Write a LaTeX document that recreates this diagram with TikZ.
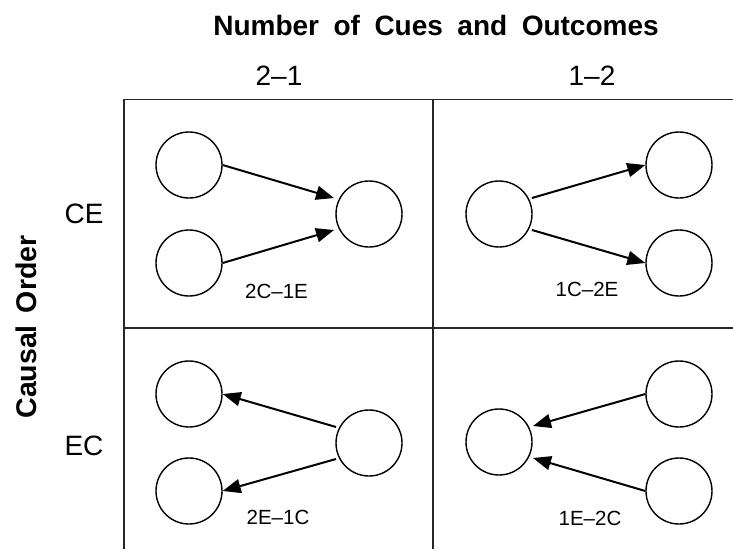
\documentclass[tikz,border=0pt]{standalone}
\usepackage{fontspec}
\setmainfont{Liberation Sans}
\usetikzlibrary{arrows.meta}
\begin{document}
\begin{tikzpicture}[x=1pt,y=-1pt,
  gridline/.style={line width=1.7pt, draw=black!85},
  circ/.style={circle, draw, line width=1.4pt, minimum size=66pt, inner sep=0pt},
  arr/.style={line width=2pt, -{Triangle[length=18pt,width=14pt]}},
  hdr/.style={anchor=base, inner sep=0pt, font=\fontsize{28}{32}\selectfont},
  tag/.style={anchor=base, inner sep=0pt, font=\fontsize{20.5}{24}\selectfont},
  ttl/.style={anchor=base, inner sep=0pt, font=\fontsize{28}{32}\selectfont\bfseries}]
\useasboundingbox (0,0) rectangle (733,549);
% grid
\draw[gridline] (124,549) -- (124,99.5) -- (733,99.5);
\draw[gridline] (433,99.5) -- (433,549);
\draw[gridline] (124,328) -- (733,328);
% headings
\node[ttl] (title) at (436,35) {\spaceskip=14.5pt Number of Cues and Outcomes};
\node[hdr] (c21) at (279,85) {2--1};
\node[hdr] (c12) at (592,85) {1--2};
\node[hdr] (ce) at (84,223) {CE};
\node[hdr] (ec) at (84,455) {EC};
\node[ttl, font=\fontsize{28.5}{32}\selectfont\bfseries, rotate=90] (co) at (36.5,327) {\spaceskip=12pt Causal Order};
% top-left: 2C-1E
\node[circ] (tl1) at (189,165) {};
\node[circ] (tl2) at (189,263) {};
\node[circ] (tlc) at (369,214) {};
\draw[arr] (tl1.east) -- ([shift={(-35pt,16pt)}]tlc.center);
\draw[arr] (tl2.east) -- ([shift={(-35pt,-16pt)}]tlc.center);
\node[tag] (tltag) at (276.5,298) {2C--1E};
% top-right: 1C-2E
\node[circ] (trc) at (499,214) {};
\node[circ] (tr1) at (679,165) {};
\node[circ] (tr2) at (679,263) {};
\draw[arr] ([shift={(33pt,16pt)}]trc.center) -- (tr1.west);
\draw[arr] ([shift={(33pt,-16pt)}]trc.center) -- (tr2.west);
\node[tag] (trtag) at (587,296.5) {1C--2E};
% bottom-left: 2E-1C
\node[circ] (bl1) at (189,394) {};
\node[circ] (bl2) at (189,491) {};
\node[circ] (blc) at (369,443) {};
\draw[arr] ([shift={(-33pt,16pt)}]blc.center) -- (bl1.east);
\draw[arr] ([shift={(-33pt,-16pt)}]blc.center) -- (bl2.east);
\node[tag] (bltag) at (278,524) {2E--1C};
% bottom-right: 1E-2C
\node[circ] (brc) at (499,442) {};
\node[circ] (br1) at (679,394) {};
\node[circ] (br2) at (679,491) {};
\draw[arr] (br1.west) -- ([shift={(34pt,16pt)}]brc.center);
\draw[arr] (br2.west) -- ([shift={(34pt,-16pt)}]brc.center);
\node[tag] (brtag) at (590,525) {1E--2C};
\end{tikzpicture}
\end{document}
